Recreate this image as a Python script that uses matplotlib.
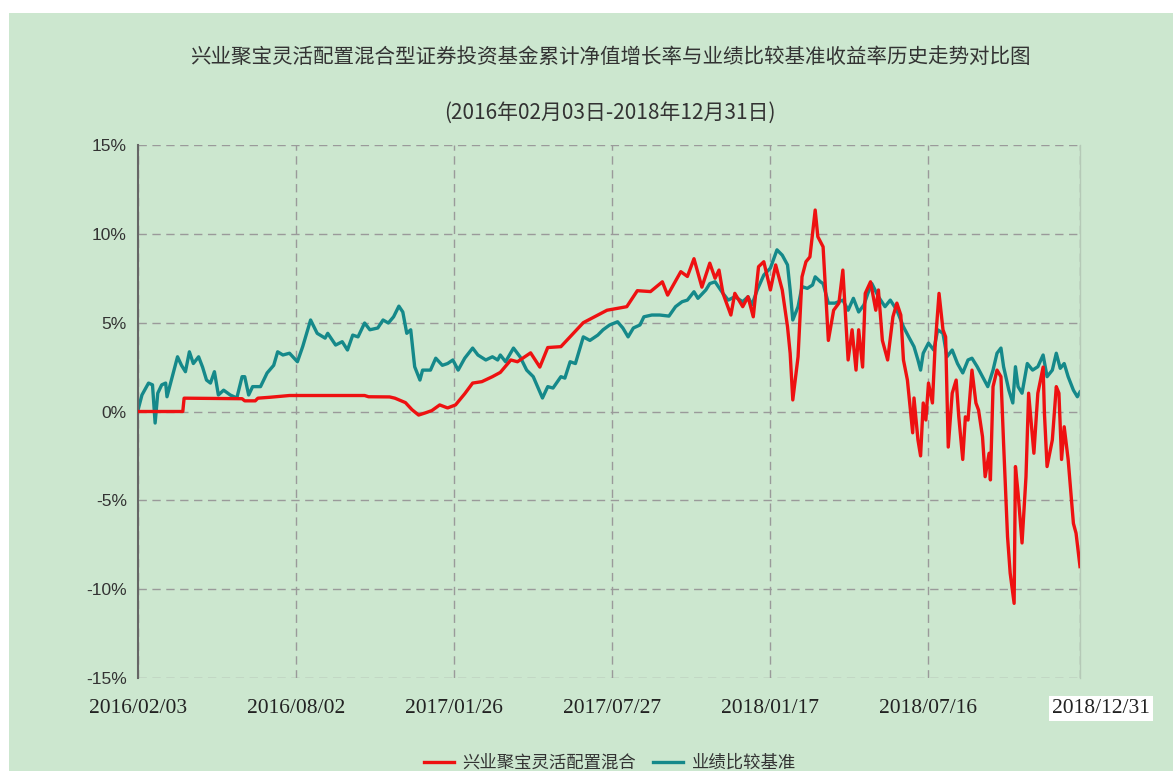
import matplotlib
matplotlib.use("Agg")
import matplotlib.pyplot as plt
from matplotlib.patches import Rectangle

plt.rcParams['font.family'] = ['Noto Sans CJK SC', 'DejaVu Sans']

# ----------------------------------
# DATA (trading-day index, return in %)
# ----------------------------------

fund_days = [0, 34, 35, 79, 81, 89, 91, 100, 112, 115, 172, 175, 191, 195, 203,
             208, 213, 218, 223, 229, 235, 241, 248, 254, 261, 269, 275, 283,
             288, 298, 305, 311, 321, 338, 356, 371, 379, 389, 398, 402, 412,
             417, 422, 428, 434, 438, 441, 444, 450, 453, 459, 463, 467, 471,
             475, 480, 484, 489, 493, 495, 497, 501, 504, 507, 510, 514, 516,
             520, 524, 528, 532, 535, 539, 542, 545, 547, 550, 552, 556, 560,
             562, 565, 569, 573, 576, 579, 581, 584, 588, 589, 592, 594, 596,
             598, 600, 603, 605, 608, 611, 613, 615, 618, 621, 623, 626, 628,
             630, 633, 636, 638, 641, 643, 646, 647, 649, 652, 655, 657, 660,
             662, 665, 666, 668, 671, 674, 676, 680, 683, 687, 688, 690, 694,
             697, 699, 701, 703, 706, 709, 710, 712, 715]
fund_values = [0.0, 0.0, 0.75, 0.72, 0.6, 0.6, 0.75, 0.8, 0.88, 0.9, 0.9, 0.83,
               0.82, 0.75, 0.5, 0.1, -0.2, -0.08, 0.05, 0.37, 0.2, 0.37, 1.0,
               1.6, 1.68, 1.96, 2.2, 2.9, 2.8, 3.3, 2.5, 3.6, 3.65, 5.0, 5.7,
               5.9, 6.8, 6.75, 7.3, 6.55, 7.87, 7.6, 8.6, 7.0, 8.35, 7.5, 7.96,
               6.65, 5.43, 6.65, 5.9, 6.46, 5.33, 8.15, 8.43, 6.84, 8.25, 6.84,
               4.77, 3.28, 0.65, 3.08, 7.58, 8.43, 8.7, 11.34, 9.84, 9.27, 4.0,
               5.7, 6.1, 7.96, 2.9, 4.6, 2.33, 4.6, 2.5, 6.65, 7.3, 5.7, 6.84,
               4.0, 2.9, 5.33, 6.1, 5.43, 2.9, 1.77, -1.2, 0.76, -1.6, -2.5,
               0.48, -0.48, 1.6, 0.48, 3.65, 6.65, 4.6, 4.2, -2.0, 1.03, 1.77,
               -0.3, -2.7, -0.3, -0.48, 2.33, 0.48, 0.08, -1.42, -3.67, -2.35,
               -3.85, 1.4, 2.33, 1.96, -1.8, -7.05, -9.1, -10.8, -3.1, -4.6,
               -7.4, -3.67, 1.03, -2.35, 1.03, 2.5, -0.1, -3.1, -1.6, 1.4, 1.03,
               -2.7, -0.86, -2.7, -5.36, -6.3, -6.85, -8.73]

bench_days = [0, 3, 5, 8, 11, 13, 15, 18, 21, 22, 26, 30, 33, 36, 39, 42, 46,
              49, 52, 55, 58, 61, 65, 70, 75, 79, 81, 84, 87, 93, 98, 103, 106,
              110, 115, 121, 125, 131, 136, 142, 144, 150, 155, 159, 163, 167,
              172, 176, 182, 186, 190, 194, 198, 201, 204, 207, 210, 214, 216,
              222, 226, 231, 235, 239, 243, 248, 254, 258, 264, 269, 273, 275,
              279, 285, 290, 295, 300, 307, 311, 315, 321, 324, 328, 332, 338,
              343, 349, 353, 358, 364, 368, 372, 376, 381, 384, 390, 396, 403,
              408, 413, 417, 422, 425, 431, 434, 438, 444, 448, 453, 459, 463,
              466, 470, 475, 480, 485, 489, 493, 495, 497, 501, 504, 508, 512,
              514, 518, 520, 524, 529, 535, 539, 543, 547, 551, 554, 557, 562,
              567, 571, 576, 581, 585, 589, 592, 594, 596, 600, 604, 607, 611,
              614, 618, 622, 626, 630, 633, 637, 641, 645, 649, 652, 655, 657,
              661, 664, 666, 668, 671, 675, 679, 683, 687, 690, 694, 697, 700,
              703, 706, 710, 713, 715]
bench_values = [0.08, 0.93, 1.2, 1.6, 1.5, -0.65, 1.03, 1.5, 1.6, 0.83, 1.96,
                3.08, 2.6, 2.24, 3.36, 2.7, 3.08, 2.5, 1.77, 1.6, 2.24, 0.93,
                1.2, 0.93, 0.76, 1.96, 1.96, 0.93, 1.4, 1.4, 2.17, 2.6, 3.36,
                3.18, 3.28, 2.8, 3.65, 5.15, 4.4, 4.13, 4.4, 3.74, 3.93, 3.46,
                4.3, 4.2, 4.98, 4.6, 4.7, 5.15, 4.98, 5.33, 5.93, 5.6, 4.4, 4.6,
                2.52, 1.77, 2.33, 2.33, 3.0, 2.6, 2.7, 2.9, 2.33, 3.0, 3.57,
                3.18, 2.9, 3.08, 2.9, 3.18, 2.8, 3.57, 3.08, 2.33, 1.96, 0.76,
                1.4, 1.32, 1.96, 1.88, 2.8, 2.7, 4.2, 4.0, 4.3, 4.6, 4.87, 5.05,
                4.7, 4.2, 4.7, 4.87, 5.33, 5.43, 5.43, 5.37, 5.9, 6.18, 6.27,
                6.74, 6.37, 6.84, 7.2, 7.3, 6.65, 6.27, 6.46, 6.18, 6.46, 6.0,
                6.84, 7.68, 8.07, 9.1, 8.8, 8.25, 6.84, 5.15, 5.9, 7.03, 6.93,
                7.12, 7.58, 7.3, 7.2, 6.1, 6.1, 6.27, 5.7, 6.37, 5.6, 6.0, 6.65,
                7.2, 6.46, 5.9, 6.27, 5.7, 4.77, 4.2, 3.65, 2.9, 2.33, 3.28,
                3.85, 3.46, 4.6, 4.4, 3.08, 3.46, 2.7, 2.17, 2.9, 3.0, 2.52,
                1.96, 1.4, 2.33, 3.28, 3.57, 2.52, 1.2, 0.48, 2.52, 1.4, 1.03,
                2.7, 2.33, 2.52, 3.18, 1.96, 2.33, 3.28, 2.43, 2.7, 1.96, 1.2,
                0.83, 1.1]

tick_days = [0, 120, 240, 360, 480, 600, 715]
tick_labels = ["2016/02/03", "2016/08/02", "2017/01/26", "2017/07/27",
               "2018/01/17", "2018/07/16", "2018/12/31"]
y_ticks = [-15, -10, -5, 0, 5, 10, 15]

fund_name = "兴业聚宝灵活配置混合"
bench_name = "业绩比较基准"
title = "兴业聚宝灵活配置混合型证券投资基金累计净值增长率与业绩比较基准收益率历史走势对比图"
subtitle = "(2016年02月03日-2018年12月31日)"

# ----------------------------------
# PLOT
# ----------------------------------

bg = '#cce7cf'
fig = plt.figure(figsize=(11.73, 7.71), dpi=100, facecolor='white')
fig.patches.append(Rectangle((9 / 1173, 0), 1, 1 - 13 / 771,
                             transform=fig.transFigure, facecolor=bg,
                             edgecolor='none', zorder=-10))

ax = fig.add_axes([138 / 1173, 1 - 678 / 771, 942 / 1173, 533 / 771])
ax.set_facecolor(bg)

ax.plot(fund_days, fund_values, color='#ee1111', lw=2.4, label=fund_name,
        solid_joinstyle='round', zorder=3)
ax.plot(bench_days, bench_values, color='#15898a', lw=2.4, label=bench_name,
        solid_joinstyle='round', zorder=2)

ax.set_xlim(0, 715)
ax.set_ylim(-15, 15)
ax.set_yticks(y_ticks)
ax.set_yticklabels([f"{v}%" for v in y_ticks], fontfamily='Liberation Sans',
                   fontsize=12.5, color='#333333')
ax.set_xticks(tick_days)
ax.set_xticklabels(tick_labels[:-1] + [""], fontfamily='Liberation Serif',
                   fontsize=15.5, color='#222222')
ax.tick_params(axis='both', length=0)
ax.tick_params(axis='y', pad=8)
ax.tick_params(axis='x', pad=15)

ax.annotate(tick_labels[-1], xy=(715, 0), xycoords=('data', 'axes fraction'),
            xytext=(15, -15), textcoords='offset points', ha='center', va='top',
            fontfamily='Liberation Serif', fontsize=15.5, color='#222222',
            bbox=dict(boxstyle='square,pad=0.15', fc='white', ec='none'))

ax.grid(True, color='#9a9a9a', linestyle=(0, (6, 4)), linewidth=1)
ax.set_axisbelow(True)
for s in ['top', 'bottom']:
    ax.spines[s].set_visible(False)
ax.spines['left'].set_color('#666666')
ax.spines['left'].set_linewidth(1.5)
ax.spines['right'].set_color('#b5c9b7')
ax.spines['right'].set_linewidth(1)

fig.text(0.52, 1 - 57 / 771, title, ha='center', va='center', fontsize=14.8,
         color='#333333')
fig.text(0.52, 1 - 113 / 771, subtitle, ha='center', va='center',
         fontsize=15, color='#333333')

fig.legend(loc='center', bbox_to_anchor=(0.52, 1 - 763 / 771), ncol=2,
           frameon=False, fontsize=12.5, handlelength=1.7, handletextpad=0.5,
           columnspacing=1.0, labelcolor='#333333')

fig.savefig('out.png', dpi=100, facecolor='white')
